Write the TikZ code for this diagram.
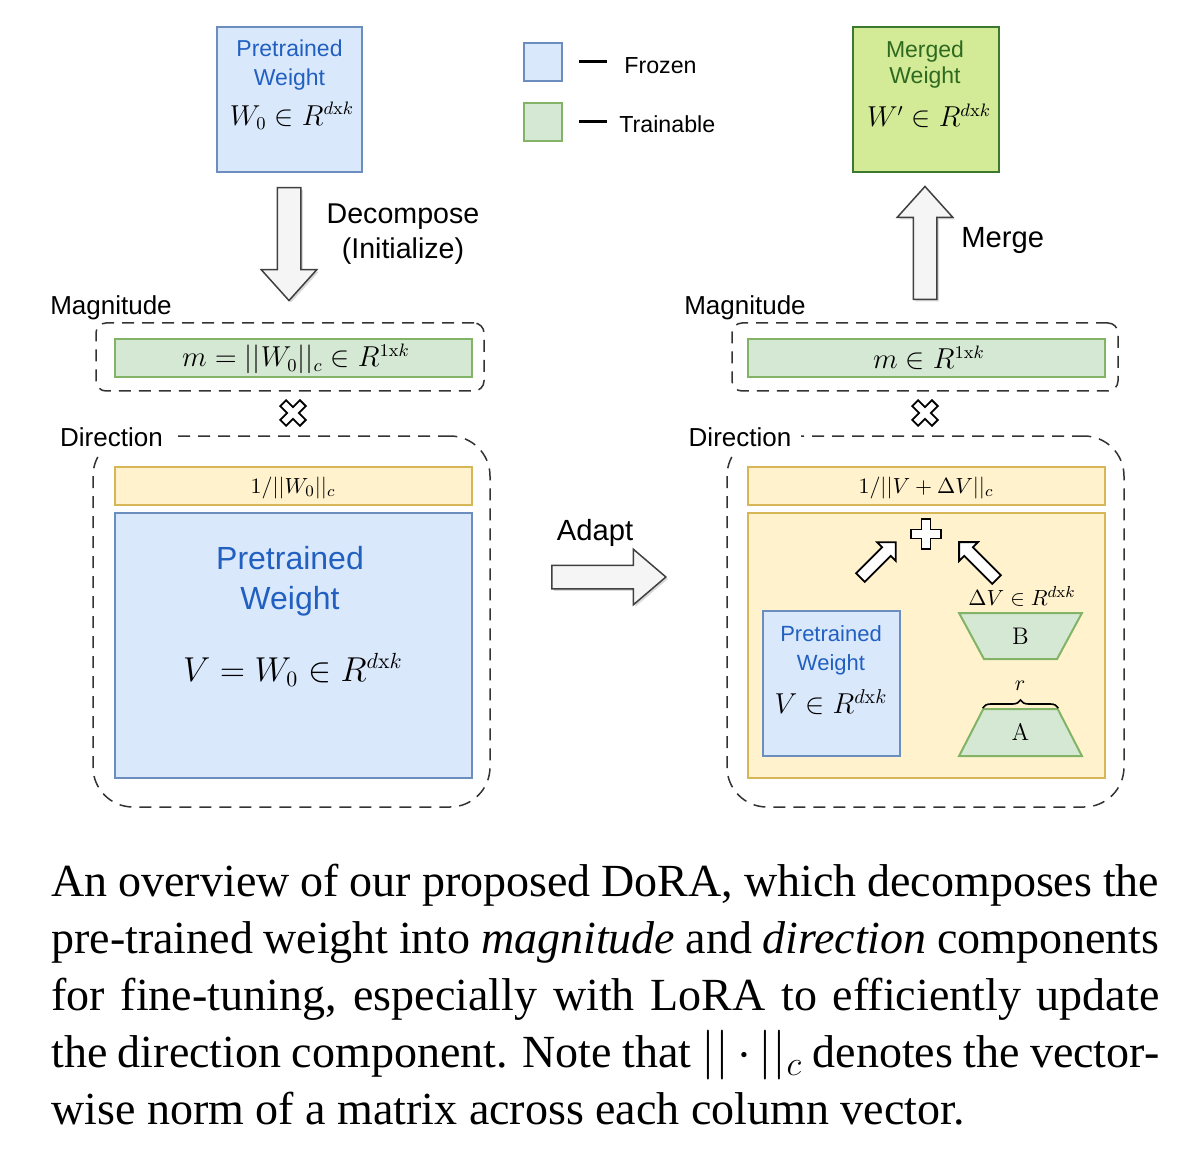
\documentclass[tikz,border=0pt]{standalone}
\usepackage[no-math]{fontspec}
\setmainfont{Liberation Serif}
\setsansfont{Liberation Sans}
\renewcommand{\familydefault}{\sfdefault}
\usetikzlibrary{shapes.geometric,shapes.arrows,shadows,decorations.pathreplacing}

\definecolor{frozenfill}{HTML}{DAE8FC}
\definecolor{frozenline}{HTML}{6C8EBF}
\definecolor{trainfill}{HTML}{D5E8D4}
\definecolor{trainline}{HTML}{82B366}
\definecolor{normfill}{HTML}{FFF2CC}
\definecolor{normline}{HTML}{D6B656}
\definecolor{mergefill}{HTML}{D3EA96}
\definecolor{mergeline}{HTML}{3B7A2E}
\definecolor{mergetext}{HTML}{2D6A1F}
\definecolor{ptblue}{HTML}{2160C0}

\tikzset{
  frozen/.style={draw=frozenline,fill=frozenfill,line width=1pt,inner sep=0pt},
  trainable/.style={draw=trainline,fill=trainfill,line width=1pt,inner sep=0pt},
  normbar/.style={draw=normline,fill=normfill,line width=1pt,inner sep=0pt},
  groupbox/.style={draw=black!80,dash pattern=on 6pt off 4pt,line width=0.75pt,inner sep=0pt},
  blockarrow/.style={single arrow,draw=black!75,fill=gray!8,line width=0.75pt,
    inner xsep=0pt,inner ysep=5.5pt,single arrow head extend=8pt,
    drop shadow={shadow xshift=1pt,shadow yshift=-1pt,opacity=0.3}},
  smallarrow/.style={single arrow,draw=black,fill=white,line width=0.9pt,
    inner xsep=0pt,inner ysep=2.6pt,single arrow head extend=3.6pt,single arrow tip angle=90},
  lora/.style={trainable,trapezium,trapezium angle=71,trapezium stretches=true,inner sep=1pt,
    minimum width=61.5pt,minimum height=23pt,font=\fontsize{12pt}{14pt}\selectfont},
  wtext/.style={text=ptblue,align=center,inner sep=0pt},
  label/.style={inner sep=0pt,font=\fontsize{13pt}{15pt}\selectfont},
  mathlabel/.style={inner sep=0pt,font=\fontsize{13.5pt}{16pt}\selectfont},
  plussign/.pic={
    \draw[fill=white,line width=0.9pt] (4.5,15) -- (4.5,4.5) -- (15,4.5) -- (15,-4.5) -- (4.5,-4.5)
      -- (4.5,-15) -- (-4.5,-15) -- (-4.5,-4.5) -- (-15,-4.5) -- (-15,4.5) -- (-4.5,4.5)
      -- (-4.5,15) -- cycle;
  }
}

\begin{document}
\begin{tikzpicture}[x=0.5pt,y=-0.5pt]
  \useasboundingbox (0,0) rectangle (1191,1161);

  % left column
  \node[frozen,minimum width=72.5pt,minimum height=72.5pt] (w0) at (289.5,99.5) {};
  \node[wtext,font=\fontsize{11.5pt}{14.5pt}\selectfont] (w0txt) at (289.5,65) {Pretrained\\Weight};
  \node[mathlabel] (w0math) at (292,116) {$W_0\in R^{d\mathrm{x}k}$};

  \node[blockarrow,minimum height=56.5pt,single arrow tip angle=84,rotate=270] (decomp) at (289,237.5) {};
  \node[align=center,inner sep=0pt,font=\fontsize{14.3pt}{17.5pt}\selectfont] (decomptxt) at (403,234)
    {Decompose\\(Initialize)};

  \node[label] (magL) at (111,308) {Magnitude};
  \node[groupbox,rounded corners=5pt,minimum width=194pt,minimum height=34pt] (magboxL) at (290,357) {};
  \node[trainable,minimum width=178.5pt,minimum height=19pt] (mL) at (293.5,358) {};
  \node[mathlabel] (mLtxt) at (296,359) {$m=||W_0||_c\in R^{1\mathrm{x}k}$};
  \pic[rotate=45,scale=0.93] (timesL) at (293,413) {plussign};

  \node[groupbox,rounded corners=20pt,minimum width=198.5pt,minimum height=185.5pt] (dirboxL) at (291.5,621.5) {};
  \node[label,fill=white,inner xsep=5pt,inner ysep=4pt] (dirL) at (111.5,437) {Direction};
  \node[normbar,minimum width=178.5pt,minimum height=19pt] (nL) at (293.5,486) {};
  \node[inner sep=0pt,font=\fontsize{11.2pt}{13pt}\selectfont] (nLtxt) at (293,488) {$1/||W_0||_c$};
  \node[frozen,minimum width=178.5pt,minimum height=132.5pt] (vL) at (293.5,645.5) {};
  \node[wtext,font=\fontsize{16pt}{20pt}\selectfont] (vLtxt) at (290,581) {Pretrained\\Weight};
  \node[inner sep=0pt,font=\fontsize{16pt}{19pt}\selectfont] (vLmath) at (293,670) {$V=W_0\in R^{d\mathrm{x}k}$};

  % adapt
  \node[blockarrow,minimum height=57pt,single arrow tip angle=81] (adapt) at (602,577) {};
  \node[inner sep=0pt,font=\fontsize{14.6pt}{17pt}\selectfont] (adapttxt) at (595,533) {Adapt};

  % legend
  \node[frozen,minimum size=19pt] (legF) at (543,62) {};
  \node[trainable,minimum size=19pt] (legT) at (543,122) {};
  \draw[line width=1.5pt] (579,62) -- (607,62);
  \draw[line width=1.5pt] (579,122) -- (607,122);
  \node[anchor=west,inner sep=0pt,font=\fontsize{11.6pt}{14pt}\selectfont] (legFtxt) at (624,66) {Frozen};
  \node[anchor=west,inner sep=0pt,font=\fontsize{11.6pt}{14pt}\selectfont] (legTtxt) at (619,124) {Trainable};

  % right column
  \node[draw=mergeline,fill=mergefill,line width=1pt,minimum width=73pt,minimum height=72.5pt] (wm) at (926,99.5) {};
  \node[align=center,inner sep=0pt,text=mergetext,font=\fontsize{11.5pt}{13pt}\selectfont] (wmtxt) at (925,65) {Merged\\Weight};
  \node[mathlabel] (wmmath) at (929,116) {$W'\in R^{d\mathrm{x}k}$};

  \node[blockarrow,minimum height=56.5pt,single arrow tip angle=84,rotate=90] (merge) at (925,249.5) {};
  \node[anchor=west,inner sep=0pt,font=\fontsize{14.6pt}{17pt}\selectfont] (mergetxt) at (961,240) {Merge};

  \node[label] (magR) at (745,308) {Magnitude};
  \node[groupbox,rounded corners=5pt,minimum width=193pt,minimum height=34pt] (magboxR) at (925,357) {};
  \node[trainable,minimum width=178.5pt,minimum height=19pt] (mR) at (926.5,358) {};
  \node[mathlabel] (mRtxt) at (929,358) {$m\in R^{1\mathrm{x}k}$};
  \pic[rotate=45,scale=0.93] (timesR) at (925,413) {plussign};

  \node[groupbox,rounded corners=20pt,minimum width=198.5pt,minimum height=185.5pt] (dirboxR) at (925.5,621.5) {};
  \node[label,fill=white,inner xsep=5pt,inner ysep=4pt] (dirR) at (740,437) {Direction};
  \node[normbar,minimum width=178.5pt,minimum height=19pt] (nR) at (926.5,486) {};
  \node[inner sep=0pt,font=\fontsize{11.2pt}{13pt}\selectfont] (nRtxt) at (926,488) {$1/||V+\Delta V||_c$};
  \node[normbar,minimum width=178.5pt,minimum height=132.5pt] (upd) at (926.5,645.5) {};

  \pic (plus) at (926,534) {plussign};
  \node[smallarrow,minimum height=25pt,rotate=45] (toplusL) at (876,562) {};
  \node[smallarrow,minimum height=26.5pt,rotate=135] (toplusR) at (980,563) {};

  \node[frozen,minimum width=68.5pt,minimum height=72.5pt] (vR) at (831.5,683.5) {};
  \node[wtext,font=\fontsize{11pt}{14.5pt}\selectfont] (vRtxt) at (831,650) {Pretrained\\Weight};
  \node[inner sep=0pt,font=\fontsize{14pt}{16pt}\selectfont] (vRmath) at (831,702) {$V\in R^{d\mathrm{x}k}$};

  \node[inner sep=0pt,font=\fontsize{11.4pt}{13pt}\selectfont] (dV) at (1022,596) {$\Delta V\in R^{d\mathrm{x}k}$};
  \node[lora,shape border rotate=180] (B) at (1020.5,636) {$\mathrm{B}$};
  \node[lora,minimum height=23.5pt] (A) at (1020.5,732.5) {$\mathrm{A}$};
  \draw[line width=0.8pt,decorate,decoration={brace,amplitude=4pt}]
    (A.top left corner) -- (A.top right corner);
  \node[inner sep=0pt,font=\fontsize{11pt}{13pt}\selectfont] (rank) at (1020,686) {$r$};

  % caption
  \node[anchor=north west,inner sep=0pt,text width=554pt,align=justify,
    font=\rmfamily\fontsize{23pt}{28.5pt}\selectfont] (caption) at (51,864)
    {An overview of our proposed DoRA, which decomposes the pre-trained weight into
     \emph{magnitude} and \emph{direction} components for fine-tuning, especially with LoRA
     to efficiently update\linebreak the direction component. Note that $||\cdot||_c$ denotes the
     vector-wise norm of a matrix across each column vector.};
\end{tikzpicture}
\end{document}
